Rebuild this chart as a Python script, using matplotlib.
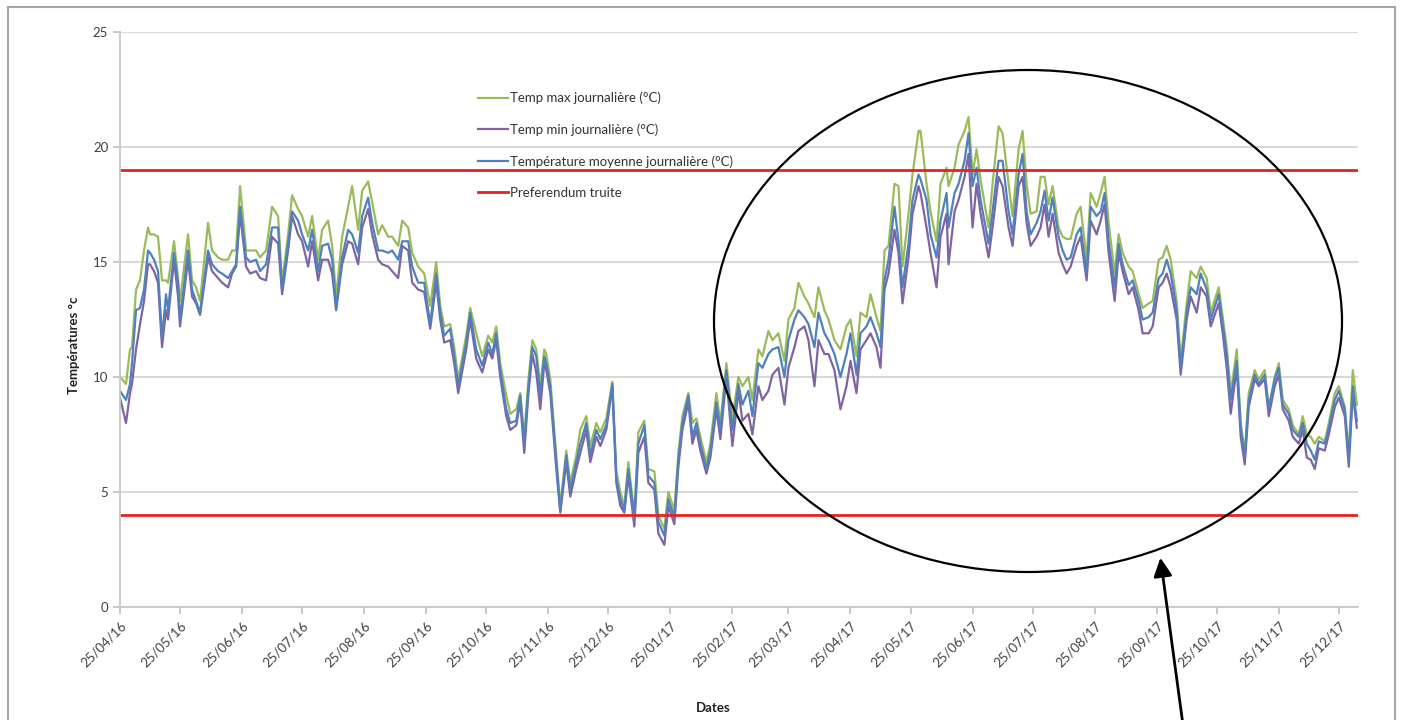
import pandas as pd
import matplotlib
matplotlib.use("Agg")
import matplotlib.pyplot as plt
import matplotlib.dates as mdates
from matplotlib.patches import Ellipse
from matplotlib.lines import Line2D

plt.rcParams['font.family'] = ['Lato', 'DejaVu Sans']

# Values (days counted from 25/04/2016)
start = pd.Timestamp('2016-04-25')

days = [0, 3, 5, 6, 8, 10, 12, 14, 15, 17, 19, 21, 23, 24, 27, 29, 30, 34, 36, 38,
        40, 44, 46, 49, 51, 54, 56, 58, 60, 63, 65, 68, 70, 73, 76, 79, 81, 84, 86, 89,
        91, 94, 96, 99, 101, 104, 106, 108, 111, 114, 116, 119, 121, 124, 126, 129, 131, 134, 136, 139,
        141, 144, 146, 149, 152, 155, 158, 160, 162, 165, 167, 169, 173, 175, 178, 181, 184, 186, 188, 190,
        193, 195, 198, 200, 202, 204, 206, 208, 210, 212, 213, 215, 218, 220, 223, 225, 228, 230, 233, 235,
        238, 240, 243, 246, 248, 250, 252, 254, 257, 259, 262, 264, 267, 269, 272, 274, 277, 279, 281, 284,
        286, 288, 290, 293, 295, 298, 300, 303, 306, 309, 311, 314, 316, 319, 321, 324, 326, 329, 332, 334,
        337, 339, 342, 344, 347, 349, 352, 354, 357, 360, 363, 365, 368, 370, 373, 375, 378, 380, 382, 384,
        387, 389, 391, 394, 396, 399, 400, 403, 405, 408, 410, 413, 414, 417, 419, 422, 424, 426, 428, 430,
        434, 436, 439, 441, 444, 446, 449, 451, 453, 455, 458, 460, 462, 464, 466, 469, 471, 473, 475, 478,
        480, 483, 485, 488, 490, 492, 494, 497, 499, 501, 504, 506, 509, 511, 514, 516, 519, 521, 523, 525,
        528, 530, 533, 535, 538, 540, 543, 545, 549, 551, 553, 555, 558, 560, 562, 564, 567, 569, 572, 574,
        577, 579, 581, 584, 586, 589, 591, 593, 595, 597, 599, 602, 604, 607, 609, 612, 614, 616, 618]

t_max = [10.0, 9.7, 11.2, 11.3, 13.8, 14.2, 15.5, 16.5, 16.2, 16.2, 16.1, 14.2, 14.2, 14.1, 15.9, 14.3, 13.3, 16.2, 14.2, 13.9,
         13.3, 16.7, 15.5, 15.2, 15.1, 15.1, 15.5, 15.5, 18.3, 15.5, 15.5, 15.5, 15.2, 15.5, 17.4, 17.0, 14.1, 16.2, 17.9, 17.3,
         17.0, 16.1, 17.0, 15.1, 16.4, 16.8, 15.7, 13.5, 16.1, 17.4, 18.3, 16.4, 18.1, 18.5, 17.6, 16.2, 16.6, 16.1, 16.1, 15.7,
         16.8, 16.5, 15.4, 14.8, 14.5, 13.1, 15.0, 13.1, 12.2, 12.3, 11.3, 9.9, 11.8, 13.0, 11.9, 10.9, 11.8, 11.5, 12.2, 10.6,
         9.2, 8.4, 8.6, 9.3, 7.4, 9.8, 11.6, 11.2, 9.6, 11.2, 11.0, 9.9, 6.6, 4.4, 6.8, 5.4, 6.6, 7.7, 8.3, 7.0,
         8.0, 7.6, 8.2, 9.8, 5.9, 5.0, 4.4, 6.3, 4.0, 7.6, 8.1, 6.0, 5.9, 4.0, 3.4, 5.0, 4.2, 6.7, 8.3, 9.3,
         8.0, 8.2, 7.4, 6.3, 7.1, 9.3, 8.0, 10.6, 8.2, 10.0, 9.6, 10.0, 9.0, 11.2, 10.9, 12.0, 11.6, 11.9, 10.7, 12.5,
         13.0, 14.1, 13.5, 13.2, 12.6, 13.9, 12.9, 12.5, 11.6, 11.2, 12.2, 12.5, 10.9, 12.8, 12.6, 13.6, 12.6, 12.0, 15.5, 15.7,
         18.4, 18.3, 14.8, 17.1, 18.8, 20.7, 20.7, 18.4, 17.2, 15.9, 18.4, 19.1, 18.3, 19.1, 20.1, 20.7, 21.3, 18.8, 19.9, 18.6,
         16.5, 18.4, 20.9, 20.6, 18.4, 17.0, 19.9, 20.7, 18.4, 17.1, 17.2, 18.7, 18.7, 17.5, 18.3, 16.5, 16.1, 16.0, 16.0, 17.1,
         17.4, 15.1, 18.0, 17.4, 18.0, 18.7, 16.7, 14.5, 16.2, 15.4, 14.8, 14.6, 13.6, 13.0, 13.2, 13.3, 15.1, 15.2, 15.7, 15.1,
         13.3, 10.7, 13.2, 14.6, 14.3, 14.8, 14.3, 12.8, 13.9, 12.6, 11.3, 9.3, 11.2, 8.0, 6.7, 9.3, 10.3, 9.9, 10.3, 8.7,
         10.0, 10.6, 9.0, 8.6, 7.9, 7.5, 8.3, 7.5, 7.4, 7.1, 7.4, 7.2, 8.0, 9.3, 9.6, 8.7, 6.7, 10.3, 8.8]

t_mean = [9.4, 9.0, 9.7, 10.6, 12.9, 13.0, 13.8, 15.5, 15.4, 15.1, 14.6, 11.7, 13.6, 12.9, 15.4, 14.1, 12.5, 15.5, 13.8, 13.3,
          12.8, 15.5, 14.9, 14.6, 14.5, 14.3, 14.6, 14.9, 17.4, 15.2, 15.0, 15.1, 14.6, 14.9, 16.5, 16.5, 13.8, 15.8, 17.2, 16.8,
          16.2, 15.5, 16.4, 14.6, 15.7, 15.8, 15.1, 13.0, 15.2, 16.4, 16.2, 15.4, 17.0, 17.8, 16.7, 15.5, 15.5, 15.4, 15.5, 15.1,
          15.9, 15.9, 14.8, 14.1, 14.1, 12.3, 14.5, 12.8, 11.8, 12.1, 10.9, 9.6, 11.5, 12.8, 11.2, 10.5, 11.5, 11.0, 11.9, 10.3,
          8.6, 8.0, 8.1, 9.2, 7.1, 9.5, 11.3, 10.9, 9.2, 10.9, 10.6, 9.6, 6.3, 4.2, 6.6, 5.1, 6.3, 7.1, 8.0, 6.6,
          7.7, 7.3, 7.9, 9.7, 5.6, 4.7, 4.2, 6.0, 3.9, 7.1, 7.9, 5.7, 5.4, 3.7, 3.1, 4.7, 3.9, 6.4, 8.0, 9.2,
          7.4, 8.0, 7.1, 6.0, 6.8, 8.9, 7.7, 10.3, 7.7, 9.7, 8.8, 9.4, 8.3, 10.6, 10.4, 11.0, 11.2, 11.3, 10.0, 11.6,
          12.5, 12.9, 12.6, 12.3, 11.3, 12.8, 11.9, 11.6, 11.0, 10.0, 11.0, 11.9, 10.1, 11.9, 12.2, 12.6, 11.9, 11.3, 14.2, 15.1,
          17.4, 15.9, 13.9, 15.8, 17.7, 18.8, 18.6, 17.7, 16.2, 15.2, 16.8, 18.0, 16.5, 18.0, 18.4, 19.4, 20.6, 18.3, 19.1, 17.7,
          15.8, 17.2, 19.4, 19.4, 17.2, 16.2, 18.8, 19.7, 17.2, 16.2, 16.7, 17.2, 18.1, 16.8, 17.8, 16.1, 15.5, 15.1, 15.2, 16.2,
          16.5, 14.5, 17.4, 17.0, 17.2, 18.0, 15.9, 13.9, 15.8, 14.9, 14.0, 14.2, 13.3, 12.5, 12.6, 12.8, 14.3, 14.5, 15.1, 14.5,
          12.9, 10.4, 12.8, 13.9, 13.6, 14.5, 13.8, 12.5, 13.6, 12.3, 11.0, 9.0, 10.7, 7.8, 6.5, 9.0, 10.1, 9.7, 10.1, 8.6,
          9.9, 10.4, 8.8, 8.4, 7.7, 7.4, 8.0, 7.1, 6.8, 6.4, 7.2, 7.1, 7.8, 9.0, 9.4, 8.6, 6.4, 9.6, 8.1]

t_min = [9.1, 8.0, 9.3, 9.7, 11.2, 12.3, 13.3, 14.9, 14.9, 14.6, 14.1, 11.3, 12.9, 12.5, 15.1, 13.5, 12.2, 15.1, 13.5, 13.2,
         12.7, 15.2, 14.6, 14.3, 14.1, 13.9, 14.5, 14.8, 17.1, 14.8, 14.5, 14.6, 14.3, 14.2, 16.1, 15.8, 13.6, 15.5, 17.0, 16.2,
         15.9, 14.8, 15.9, 14.2, 15.1, 15.1, 14.5, 12.9, 14.9, 15.9, 15.8, 14.9, 16.5, 17.3, 16.2, 15.1, 14.9, 14.8, 14.6, 14.3,
         15.7, 15.5, 14.1, 13.8, 13.7, 12.1, 14.1, 12.5, 11.5, 11.6, 10.6, 9.3, 11.2, 12.5, 10.8, 10.2, 11.2, 10.8, 11.6, 10.0,
         8.3, 7.7, 7.9, 8.9, 6.7, 9.2, 11.0, 10.2, 8.6, 10.6, 10.3, 9.3, 6.0, 4.1, 6.3, 4.8, 6.0, 6.7, 7.7, 6.3,
         7.4, 7.0, 7.7, 9.6, 5.4, 4.4, 4.1, 5.7, 3.5, 6.7, 7.4, 5.4, 5.1, 3.2, 2.7, 4.4, 3.6, 6.1, 7.7, 8.9,
         7.1, 7.7, 6.8, 5.8, 6.5, 8.6, 7.3, 10.0, 7.0, 9.4, 8.1, 8.4, 7.5, 9.6, 9.0, 9.4, 10.1, 10.4, 8.8, 10.4,
         11.3, 12.0, 12.2, 11.6, 9.6, 11.6, 11.0, 11.0, 10.3, 8.6, 9.6, 10.7, 9.3, 11.2, 11.6, 11.9, 11.3, 10.4, 13.8, 14.5,
         16.4, 15.4, 13.2, 15.2, 17.1, 18.3, 18.0, 16.5, 15.4, 13.9, 16.1, 17.1, 14.9, 17.2, 17.7, 18.7, 19.7, 16.5, 18.4, 17.1,
         15.2, 16.5, 18.7, 18.3, 16.5, 15.7, 18.3, 18.7, 16.7, 15.7, 16.1, 16.5, 17.5, 16.1, 17.1, 15.4, 14.9, 14.5, 14.8, 15.7,
         16.1, 14.2, 16.8, 16.2, 16.8, 17.5, 15.4, 13.3, 15.4, 14.6, 13.6, 13.9, 12.9, 11.9, 11.9, 12.2, 13.9, 14.1, 14.5, 13.9,
         12.5, 10.1, 12.5, 13.5, 12.8, 13.9, 13.5, 12.2, 13.2, 11.9, 10.4, 8.4, 10.4, 7.4, 6.2, 8.7, 9.9, 9.6, 9.9, 8.3,
         9.6, 10.1, 8.6, 8.1, 7.4, 7.1, 7.7, 6.5, 6.4, 6.0, 6.9, 6.8, 7.5, 8.7, 9.1, 8.3, 6.1, 9.3, 7.8]

preferendum = [4, 19]
tick_dates = pd.date_range('2016-04-01', '2017-12-01', freq='MS') + pd.Timedelta(days=24)

dates = start + pd.to_timedelta(days, unit='D')

fig = plt.figure(figsize=(14.02, 7.2), dpi=100)
ax = fig.add_axes([120 / 1402, 1 - 607 / 720, 1238 / 1402, 575 / 720])

# Grid
ax.set_ylim(0, 25)
ax.set_yticks([0, 5, 10, 15, 20, 25])
ax.yaxis.grid(True, color='#d9d9d9', lw=1.5)
ax.set_axisbelow(True)

ax.plot(dates, t_max, color='#9bbb59', lw=1.6, label='Temp max journalière (°C)')
ax.plot(dates, t_min, color='#8064a2', lw=1.6, label='Temp min journalière (°C)')
ax.plot(dates, t_mean, color='#4f81bd', lw=1.6, label='Température moyenne journalière (°C)')
for i, p in enumerate(preferendum):
    ax.axhline(p, color='#e8221f', lw=2.0, label='Preferendum truite' if i == 0 else None)

ax.set_xlim(start, start + pd.Timedelta(days=618.6))
ax.set_xticks(tick_dates)
ax.xaxis.set_major_formatter(mdates.DateFormatter('%d/%m/%y'))
plt.setp(ax.get_xticklabels(), rotation=45, ha='right', rotation_mode='anchor')

for s in ['top', 'right']:
    ax.spines[s].set_visible(False)
for s in ['left', 'bottom']:
    ax.spines[s].set_color('#c8c8c8')
    ax.spines[s].set_linewidth(1.3)
ax.tick_params(axis='both', colors='#bfbfbf', length=5, width=1.2, labelsize=9.5,
               labelcolor='#404040')
ax.tick_params(axis='x', pad=4)

ax.set_ylabel('Températures °c', fontsize=9.5, fontweight='bold', color='#222222')
ax.yaxis.set_label_coords(-0.032, 0.456)
ax.set_xlabel('Dates', fontsize=9.5, fontweight='bold', color='#222222')
ax.xaxis.set_label_coords(0.479, -0.165)

leg = ax.legend(loc='upper left', bbox_to_anchor=(0.289, 0.896), frameon=False,
                fontsize=9.5, handlelength=2.3, handletextpad=0.15,
                labelspacing=1.45, borderpad=0, borderaxespad=0)
for t in leg.get_texts():
    t.set_color('#333333')

# Annotation: ellipse around 2017 and arrow pointing at it
ell = Ellipse((1028 / 1402, 1 - 321 / 720), 628 / 1402, 502 / 720,
              transform=fig.transFigure, fill=False, edgecolor='black', lw=1.6)
fig.add_artist(ell)
ax.annotate('', xy=(1160, 720 - 555), xytext=(1183, -5), xycoords='figure pixels',
            textcoords='figure pixels', annotation_clip=False,
            arrowprops=dict(arrowstyle='-|>', color='black', lw=2, mutation_scale=28))

# Outer frame of the picture
frame_col = '#a6a6a6'
fig.add_artist(Line2D([8 / 1402, 8 / 1402], [0, 1 - 7 / 720], transform=fig.transFigure, color=frame_col, lw=1.5))
fig.add_artist(Line2D([8 / 1402, 1395 / 1402], [1 - 7 / 720, 1 - 7 / 720], transform=fig.transFigure, color=frame_col, lw=1.5))
fig.add_artist(Line2D([1395 / 1402, 1395 / 1402], [0, 1 - 7 / 720], transform=fig.transFigure, color=frame_col, lw=1.5))

fig.savefig('out.png', dpi=100)
